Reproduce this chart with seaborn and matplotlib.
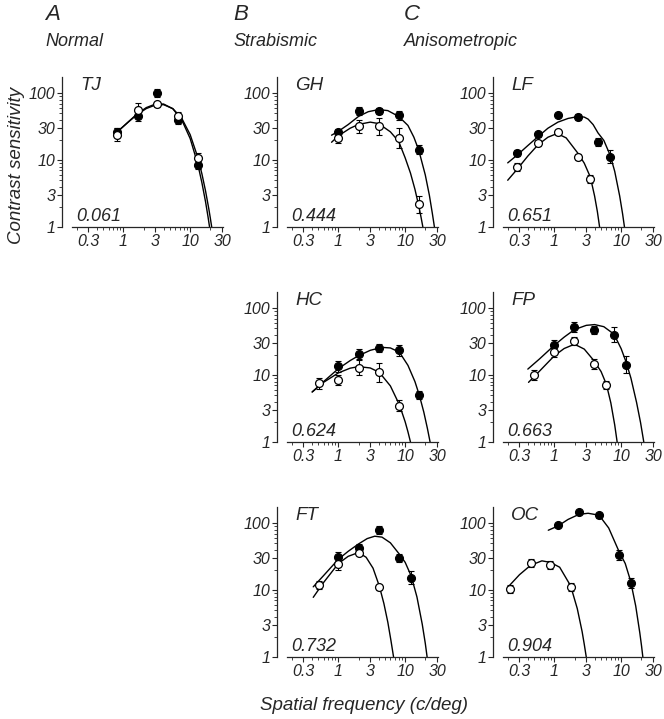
import numpy as np
import matplotlib
matplotlib.use('Agg')
import matplotlib.pyplot as plt
import seaborn as sns
from matplotlib.ticker import FixedLocator, FixedFormatter, NullFormatter

# ------------------------------------------------------
# DATA
# ------------------------------------------------------

# TJ (normal)
tj_freq = [0.8, 1.65, 3.2, 6.6, 13.2]
tj_filled = [26, 45, 100, 39.6, 8.4]
tj_filled_err = [1.15, 1.15, 1.15, 1.15, 1.15]
tj_open = [24, 57, 68, 45, 10.7]
tj_open_err = [1.25, 1.25, 1.08, 1.15, 1.2]
tj_fit_filled_f = [0.76, 1.2, 1.6, 2.2, 3, 4, 5.5, 7.5, 10, 13, 15, 17, 18.5, 19.5]
tj_fit_filled_s = [25, 37.8, 49, 61, 68.8, 69, 58.6, 39.7, 21, 8.7, 4.56, 2.37, 1.42, 1.0]
tj_fit_open_f = [0.76, 1.2, 1.6, 2.2, 3, 4, 5.5, 7.5, 10, 13, 15, 17, 19, 20, 21]
tj_fit_open_s = [25, 37.5, 47.9, 59, 66.6, 67.5, 58.9, 42, 24, 11, 6.2, 3.44, 1.87, 1.37, 1.0]

# GH (strabismic)
gh_freq = [1, 2, 4, 8, 16.3]
gh_filled = [26.4, 54.4, 54, 46.5, 14.4]
gh_filled_err = [1.1, 1.15, 1.1, 1.15, 1.15]
gh_open = [21.5, 32.2, 32, 21.5, 2.18]
gh_open_err = [1.2, 1.25, 1.35, 1.4, 1.35]
gh_fit_filled_f = [0.79, 1, 1.4, 2, 2.8, 4, 5.5, 8, 11, 13.5, 16, 20, 23, 25.5, 27.4]
gh_fit_filled_s = [23.6, 27, 34, 45, 53, 57, 55, 45, 33, 22, 14, 6, 3, 1.6, 1]
gh_fit_open_f = [0.79, 1, 1.5, 2, 3, 4, 6, 8, 10, 12, 14, 16, 17.3, 18.4]
gh_fit_open_s = [18.5, 23.1, 30, 34.2, 37, 35.2, 26.5, 19, 10.8, 6.4, 3.66, 2.05, 1.39, 1]

# LF (anisometropic)
lf_filled_freq = [0.28, 0.57, 1.13, 2.26, 4.5, 6.85]
lf_filled = [12.8, 24.2, 47.5, 44.2, 18.4, 11.2]
lf_filled_err = [1.12, 1.1, 1.05, 1.1, 1.15, 1.25]
lf_open_freq = [0.28, 0.57, 1.13, 2.26, 3.45]
lf_open = [7.9, 18.1, 25.9, 11.2, 5.15]
lf_open_err = [1.15, 1.1, 1.1, 1.1, 1.15]
lf_fit_filled_f = [0.2, 0.28, 0.4, 0.57, 0.8, 1.13, 1.6, 2.3, 2.8, 3.2, 3.8, 4.5, 5.5, 6.85, 8, 9.5, 10.5, 11.2]
lf_fit_filled_s = [9.1, 12, 16.5, 22.5, 30, 37, 42, 45, 44, 41, 34, 25.5, 19.7, 11.8, 6.8, 2.9, 1.57, 1]
lf_fit_open_f = [0.2, 0.28, 0.4, 0.57, 0.8, 1.1, 1.5, 2.26, 2.8, 3.45, 4.0, 4.4, 4.75]
lf_fit_open_s = [5, 7.4, 11.5, 17, 22, 25, 21.5, 12.6, 9.0, 5.6, 2.9, 1.7, 1]

# HC (strabismic)
hc_filled_freq = [1, 2.04, 4.1, 8.2, 16.3]
hc_filled = [13.5, 20.6, 25.3, 23.4, 5.0]
hc_filled_err = [1.2, 1.2, 1.15, 1.2, 1.15]
hc_open_freq = [0.51, 1, 2.04, 4.1, 8.2]
hc_open = [7.5, 8.5, 13.0, 11.0, 3.49]
hc_open_err = [1.2, 1.2, 1.3, 1.4, 1.2]
hc_fit_filled_f = [0.405, 0.6, 1, 1.5, 2, 3, 4.5, 6, 8.2, 11, 14, 16.3, 19, 21.5, 23.6]
hc_fit_filled_s = [5.6, 8, 12.5, 16.5, 19.5, 23.5, 26, 25.5, 22, 14, 8, 5, 2.8, 1.6, 1]
hc_fit_open_f = [0.405, 0.6, 1, 1.5, 2, 3, 4.1, 6, 8.2, 10, 11, 12]
hc_fit_open_s = [5.6, 7.8, 10.8, 12.7, 13.4, 12.8, 11, 6.9, 3.6, 2.0, 1.42, 1]

# FP (anisometropic)
fp_filled_freq = [1, 1.97, 3.9, 7.8, 11.9]
fp_filled = [28, 52.6, 47.5, 40, 14.3]
fp_filled_err = [1.2, 1.2, 1.15, 1.3, 1.35]
fp_open_freq = [0.5, 1, 1.97, 3.9, 6.0]
fp_open = [10, 21.8, 31.9, 14.6, 7.1]
fp_open_err = [1.2, 1.15, 1.15, 1.2, 1.15]
fp_fit_filled_f = [0.4, 0.6, 1, 1.4, 2, 3, 4, 5.5, 7.8, 10, 11.9, 14, 17, 19.5, 21.8]
fp_fit_filled_s = [12.3, 17.5, 28, 37, 48, 55.5, 57, 53, 41, 24.8, 15.5, 9, 3.9, 1.95, 1]
fp_fit_open_f = [0.41, 0.6, 1, 1.4, 2, 2.8, 3.9, 5, 6, 7, 8, 8.7]
fp_fit_open_s = [7.8, 11.5, 19.5, 25, 29, 24.5, 16.5, 11.3, 7.3, 3.84, 1.8, 1]

# FT (strabismic)
ft_filled_freq = [1, 2, 4.1, 8.2, 12.3]
ft_filled = [31.4, 43.3, 78.6, 30, 15.2]
ft_filled_err = [1.2, 1.15, 1.15, 1.15, 1.25]
ft_open_freq = [0.51, 1, 2, 4.1]
ft_open = [11.9, 24.4, 36, 11]
ft_open_err = [1.15, 1.2, 1.08, 1.08]
ft_fit_filled_f = [0.42, 0.6, 1, 1.4, 2, 2.7, 3.5, 4.5, 6, 8.2, 10, 12.3, 15, 18, 20, 21.3]
ft_fit_filled_s = [11.2, 16.5, 29, 38, 49, 59, 64, 62, 51, 34.4, 26, 16.3, 7.9, 3.1, 1.6, 1]
ft_fit_open_f = [0.42, 0.6, 1, 1.4, 2, 2.6, 3.3, 4.1, 4.8, 5.5, 6.1, 6.7]
ft_fit_open_s = [7.8, 13, 25, 32, 36.5, 31, 21.3, 11.5, 6.3, 3.3, 1.8, 1]

# OC (anisometropic)
oc_filled_freq = [1.13, 2.34, 4.66, 9.2, 13.8]
oc_filled = [94.4, 147, 131, 33.6, 12.7]
oc_filled_err = [1.05, 1.05, 1.1, 1.2, 1.2]
oc_open_freq = [0.22, 0.44, 0.87, 1.75]
oc_open = [10.4, 25.3, 23.6, 11.0]
oc_open_err = [1.15, 1.15, 1.15, 1.15]
oc_fit_filled_f = [0.81, 1.13, 1.6, 2.34, 3.2, 4.66, 6.5, 9.2, 11.5, 13.8, 16.5, 19, 20.2, 21.1]
oc_fit_filled_s = [78.6, 91, 114, 136, 141, 132, 85, 38.6, 25, 13.8, 5.8, 2.3, 1.45, 1]
oc_fit_open_f = [0.2, 0.3, 0.44, 0.65, 0.87, 1.2, 1.75, 2.2, 2.6, 2.8, 3.0]
oc_fit_open_s = [11, 17, 23.5, 27.4, 26, 22, 11.6, 5.3, 2.4, 1.55, 1]

# Correlation values printed in each panel
tj_stat, gh_stat, lf_stat = '0.061', '0.444', '0.651'
hc_stat, fp_stat = '0.624', '0.663'
ft_stat, oc_stat = '0.732', '0.904'

# ------------------------------------------------------
# STYLE
# ------------------------------------------------------

sns.set_style('ticks')
plt.rcParams['font.family'] = ['Liberation Sans', 'DejaVu Sans']
plt.rcParams['font.style'] = 'italic'
plt.rcParams['axes.linewidth'] = 0.9

W, H = 664, 719
fig = plt.figure(figsize=(W / 100, H / 100), dpi=100)

col_left = [72, 287, 503]
row_top = [77, 292, 507]
ax_w, ax_h = 151, 150


def make_ax(col, row):
    return fig.add_axes([col_left[col] / W, 1 - (row_top[row] + ax_h) / H, ax_w / W, ax_h / H])


def draw_points(ax, f, s, err, filled):
    f = np.asarray(f, float)
    s = np.asarray(s, float)
    e = np.asarray(err, float)
    ax.errorbar(f, s, yerr=[s - s / e, s * e - s], fmt='none', ecolor='k',
                elinewidth=0.8, capsize=2.2, capthick=0.8, zorder=3)
    sns.scatterplot(x=f, y=s, ax=ax, marker='o', s=32,
                    color='k' if filled else 'white', edgecolor='k',
                    linewidth=0.9, zorder=4, legend=False)


def draw_fit(ax, f, s):
    sns.lineplot(x=f, y=s, ax=ax, color='k', lw=1.0, sort=False,
                 estimator=None, zorder=2, legend=False)


def setup_ax(ax, name, stat):
    ax.set_xscale('log')
    ax.set_yscale('log')
    ax.set_xlim(0.17, 31)
    ax.set_ylim(1, 175)
    sns.despine(ax=ax)
    ax.spines['left'].set_position(('outward', 7.2))
    ax.xaxis.set_major_locator(FixedLocator([0.3, 1, 3, 10, 30]))
    ax.xaxis.set_major_formatter(FixedFormatter(['0.3', '1', '3', '10', '30']))
    ax.xaxis.set_minor_locator(FixedLocator([0.2, 0.4, 0.5, 0.6, 0.7, 0.8, 0.9, 2, 4, 5, 6, 7, 8, 9, 20]))
    ax.xaxis.set_minor_formatter(NullFormatter())
    ax.yaxis.set_major_locator(FixedLocator([1, 3, 10, 30, 100]))
    ax.yaxis.set_major_formatter(FixedFormatter(['1', '3', '10', '30', '100']))
    ax.yaxis.set_minor_locator(FixedLocator([2, 4, 5, 6, 7, 8, 9, 20, 40, 50, 60, 70, 80, 90]))
    ax.yaxis.set_minor_formatter(NullFormatter())
    ax.tick_params(which='major', length=3.5, width=0.8, labelsize=11.5, pad=1.5)
    ax.tick_params(which='minor', length=2, width=0.6)
    ax.set_xlabel('')
    ax.set_ylabel('')
    ax.text(0.055, 0.945, name, transform=ax.transAxes, fontsize=13.5, va='center', ha='left')
    ax.text(0.03, 0.07, stat, transform=ax.transAxes, fontsize=13, va='center', ha='left')


panels = [
    (0, 0, 'TJ', tj_stat, (tj_freq, tj_filled, tj_filled_err), (tj_freq, tj_open, tj_open_err),
     (tj_fit_filled_f, tj_fit_filled_s), (tj_fit_open_f, tj_fit_open_s)),
    (1, 0, 'GH', gh_stat, (gh_freq, gh_filled, gh_filled_err), (gh_freq, gh_open, gh_open_err),
     (gh_fit_filled_f, gh_fit_filled_s), (gh_fit_open_f, gh_fit_open_s)),
    (2, 0, 'LF', lf_stat, (lf_filled_freq, lf_filled, lf_filled_err), (lf_open_freq, lf_open, lf_open_err),
     (lf_fit_filled_f, lf_fit_filled_s), (lf_fit_open_f, lf_fit_open_s)),
    (1, 1, 'HC', hc_stat, (hc_filled_freq, hc_filled, hc_filled_err), (hc_open_freq, hc_open, hc_open_err),
     (hc_fit_filled_f, hc_fit_filled_s), (hc_fit_open_f, hc_fit_open_s)),
    (2, 1, 'FP', fp_stat, (fp_filled_freq, fp_filled, fp_filled_err), (fp_open_freq, fp_open, fp_open_err),
     (fp_fit_filled_f, fp_fit_filled_s), (fp_fit_open_f, fp_fit_open_s)),
    (1, 2, 'FT', ft_stat, (ft_filled_freq, ft_filled, ft_filled_err), (ft_open_freq, ft_open, ft_open_err),
     (ft_fit_filled_f, ft_fit_filled_s), (ft_fit_open_f, ft_fit_open_s)),
    (2, 2, 'OC', oc_stat, (oc_filled_freq, oc_filled, oc_filled_err), (oc_open_freq, oc_open, oc_open_err),
     (oc_fit_filled_f, oc_fit_filled_s), (oc_fit_open_f, oc_fit_open_s)),
]

for col, row, name, stat, filled, opened, fit_f, fit_o in panels:
    ax = make_ax(col, row)
    ax.set_xscale('log')
    ax.set_yscale('log')
    draw_fit(ax, *fit_f)
    draw_fit(ax, *fit_o)
    draw_points(ax, *filled, filled=True)
    draw_points(ax, *opened, filled=False)
    setup_ax(ax, name, stat)

# Column headers
for x, letter, group in [(45, 'A', 'Normal'), (233, 'B', 'Strabismic'), (404, 'C', 'Anisometropic')]:
    fig.text(x / W, 1 - 15 / H, letter, fontsize=16, ha='left', va='center')
    fig.text(x / W, 1 - 42 / H, group, fontsize=13, ha='left', va='center')

# Axis titles
fig.text(17 / W, 1 - 165 / H, 'Contrast sensitivity', rotation=90, fontsize=13.5, ha='center', va='center')
fig.text(364 / W, 1 - 705 / H, 'Spatial frequency (c/deg)', fontsize=13.5, ha='center', va='center')

fig.savefig('out.png', dpi=100)
plt.close('all')
